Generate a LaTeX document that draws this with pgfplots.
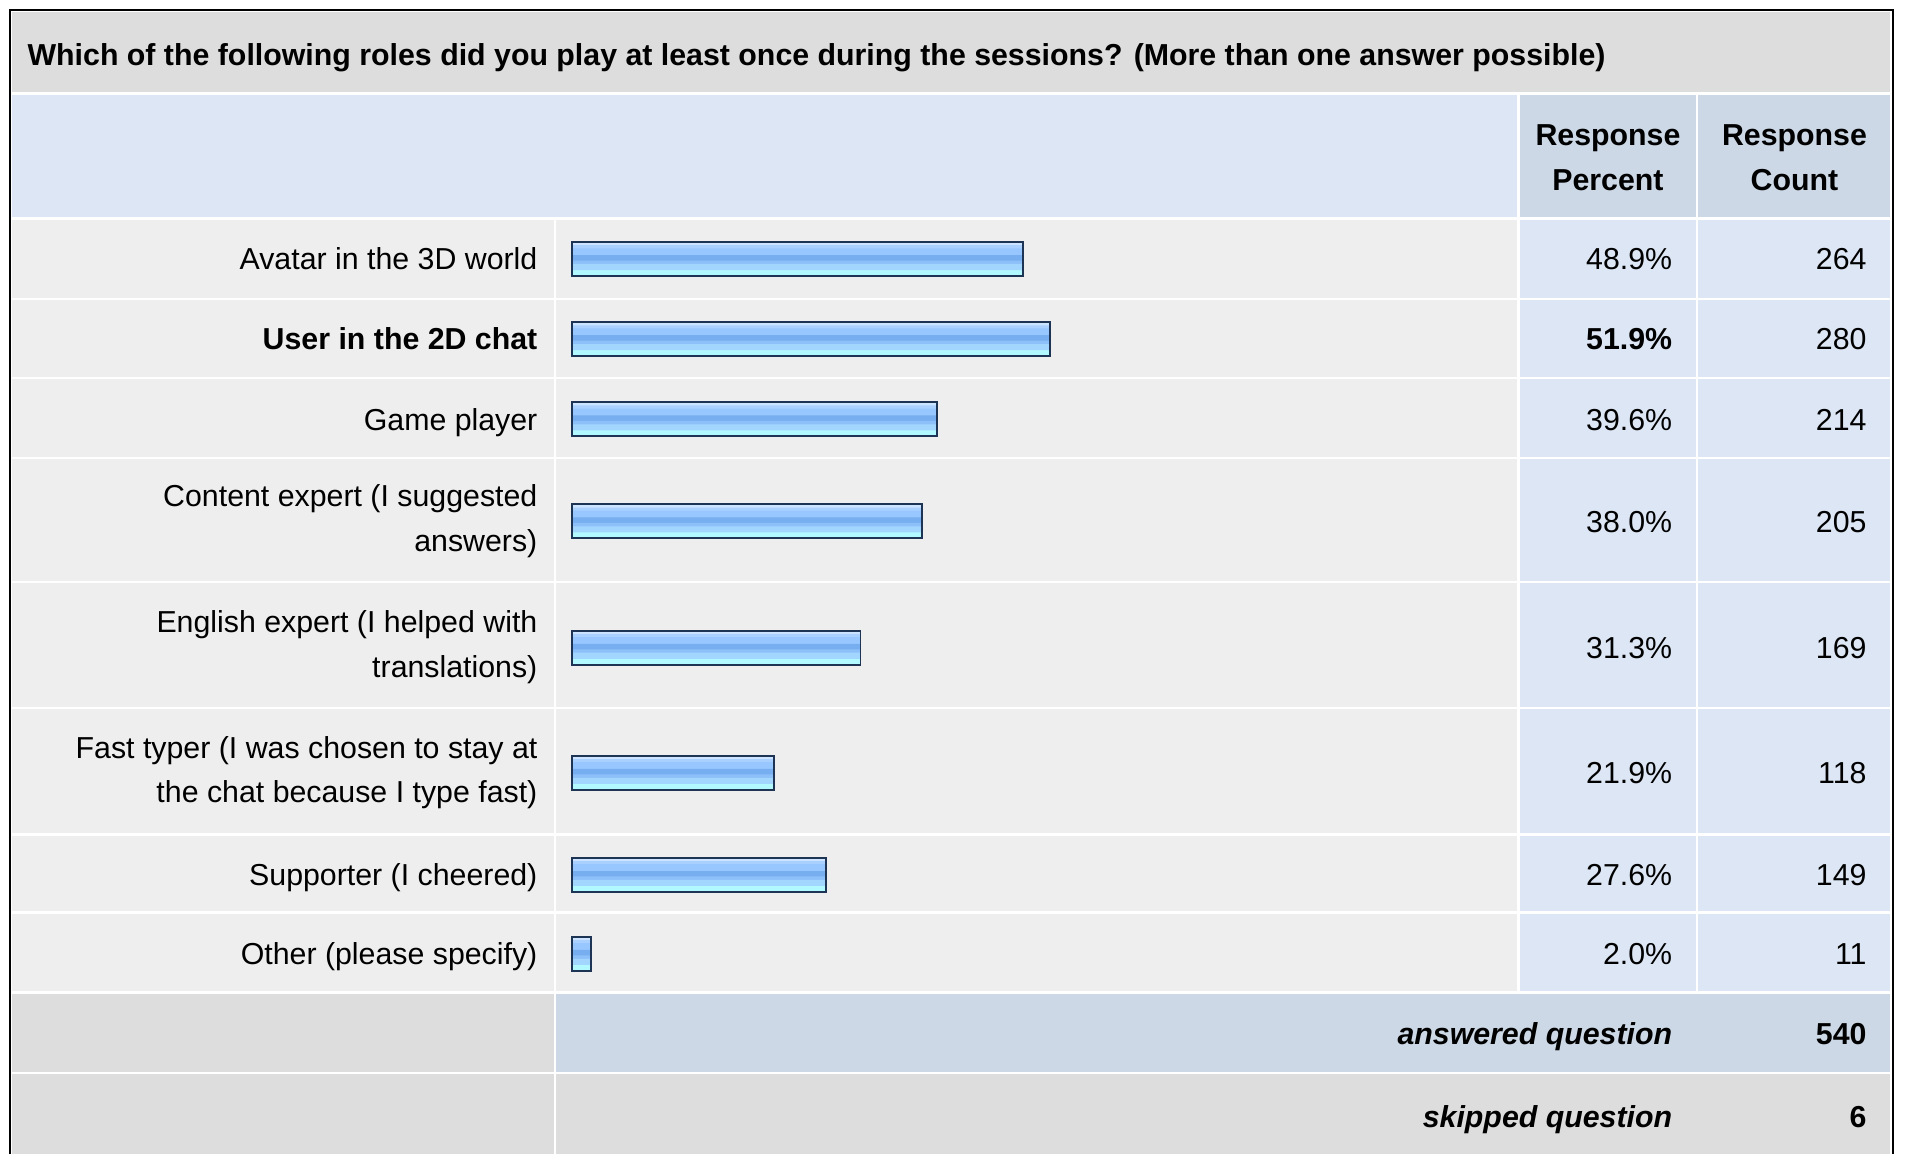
\documentclass[border=0pt]{standalone}
\usepackage{pgfplots}
\usepackage{pgfplotstable}
\pgfplotsset{compat=1.18}
\usepackage{fontspec}
\setmainfont{Liberation Sans}

\definecolor{titlegray}{HTML}{DDDDDD}
\definecolor{cellgray}{HTML}{EEEEEE}
\definecolor{lightblue}{HTML}{DCE6F4}
\definecolor{headblue}{HTML}{CCD8E6}
\definecolor{barline}{HTML}{1D3454}
\definecolor{band1}{HTML}{CCE4FF}
\definecolor{band2}{HTML}{A9D0FF}
\definecolor{band3}{HTML}{98C6FF}
\definecolor{band4}{HTML}{76AEF0}
\definecolor{band5}{HTML}{8DC0F8}
\definecolor{band6}{HTML}{A3D6FF}
\definecolor{band7}{HTML}{B2F8FF}

\newcommand\bodyfont{\fontsize{7.1}{10.5}\selectfont}

% response percent and the row centre (in screenshot pixels)
\pgfplotstableread{
pct  y
48.9 213
51.9 279
39.6 345
38.0 429
31.3 533
21.9 636
27.6 720
2.0  785
}\bardata

\begin{document}
\begin{tikzpicture}[font=\bodyfont, every node/.style={inner sep=0pt}]
% table frame, cells and text; units are pixels of the screenshot
\begin{axis}[
    width=156.8mm, height=95mm, scale only axis, hide axis,
    xmin=0, xmax=1568, ymin=0, ymax=950, y dir=reverse,
  ]
  \fill[white] (0,0) rectangle (1568,950);
  \fill[titlegray] (10,10) rectangle (1556,76);
  \fill[lightblue] (10,78) rectangle (1249,179);
  \fill[headblue] (1251,78) rectangle (1556,179);
  \fill[cellgray] (10,181) rectangle (1249,816);
  \fill[lightblue] (1251,181) rectangle (1556,816);
  \fill[titlegray] (10,818) rectangle (456,882);
  \fill[headblue] (458,818) rectangle (1556,882);
  \fill[titlegray] (10,884) rectangle (1556,950);
  \draw[white, line width=0.2mm] (10,246) -- (1556,246) (10,311) -- (1556,311)
    (10,377) -- (1556,377) (10,479) -- (1556,479) (10,583) -- (1556,583)
    (10,687) -- (1556,687) (10,751) -- (1556,751)
    (457,181) -- (457,950) (1397,78) -- (1397,816);
  \draw[black, line width=0.2mm] (8,950) -- (8,8) -- (1558,8) -- (1558,950);

  \node[anchor=base west, font=\bodyfont\bfseries] at (22,54)
    {Which of the following roles did you play at least once during the sessions? (More than one answer possible)};
  \node[align=center, font=\bodyfont\bfseries] at (1323.5,129.5) {Response\\Percent};
  \node[align=center, font=\bodyfont\bfseries] at (1477,129.5) {Response\\Count};

  \node[anchor=base east] at (443,222) {Avatar in the 3D world};
  \node[anchor=base east, font=\bodyfont\bfseries] at (443,288) {User in the 2D chat};
  \node[anchor=base east] at (443,354) {Game player};
  \node[anchor=east, align=right] at (443,429) {Content expert (I suggested\\answers)};
  \node[anchor=east, align=right] at (443,533) {English expert (I helped with\\translations)};
  \node[anchor=east, align=right] at (443,636) {Fast typer (I was chosen to stay at\\the chat because I type fast)};
  \node[anchor=base east] at (443,729) {Supporter (I cheered)};
  \node[anchor=base east] at (443,794) {Other (please specify)};

  \node[anchor=base east] at (1377,222) {48.9\%};
  \node[anchor=base east, font=\bodyfont\bfseries] at (1377,288) {51.9\%};
  \node[anchor=base east] at (1377,354) {39.6\%};
  \node[anchor=base east] at (1377,438) {38.0\%};
  \node[anchor=base east] at (1377,542) {31.3\%};
  \node[anchor=base east] at (1377,645) {21.9\%};
  \node[anchor=base east] at (1377,729) {27.6\%};
  \node[anchor=base east] at (1377,794) {2.0\%};

  \node[anchor=base east] at (1537,222) {264};
  \node[anchor=base east] at (1537,288) {280};
  \node[anchor=base east] at (1537,354) {214};
  \node[anchor=base east] at (1537,438) {205};
  \node[anchor=base east] at (1537,542) {169};
  \node[anchor=base east] at (1537,645) {118};
  \node[anchor=base east] at (1537,729) {149};
  \node[anchor=base east] at (1537,794) {11};

  \node[anchor=base east, font=\bodyfont\bfseries\itshape] at (1377,860) {answered question};
  \node[anchor=base east, font=\bodyfont\bfseries] at (1537,860) {540};
  \node[anchor=base east, font=\bodyfont\bfseries\itshape] at (1377,928) {skipped question};
  \node[anchor=base east, font=\bodyfont\bfseries] at (1537,928) {6};
\end{axis}
% the bars, x in percent, same y as above; the glossy fill is built from bands
\begin{axis}[
    width=156.8mm, height=95mm, scale only axis, hide axis,
    xmin=-62.14, xmax=144.72, ymin=0, ymax=950, y dir=reverse,
    xbar, bar width=28, bar shift=0,
  ]
  \addplot[fill=band7, draw=none, bar width=28, bar shift=0] table[x=pct, y=y] {\bardata};
  \addplot[fill=band1, draw=none, bar width=3.3, bar shift=-12.4] table[x=pct, y=y] {\bardata};
  \addplot[fill=band2, draw=none, bar width=3.3, bar shift=-9.6] table[x=pct, y=y] {\bardata};
  \addplot[fill=band3, draw=none, bar width=6.1, bar shift=-5.6] table[x=pct, y=y] {\bardata};
  \addplot[fill=band4, draw=none, bar width=5.0, bar shift=-0.55] table[x=pct, y=y] {\bardata};
  \addplot[fill=band5, draw=none, bar width=3.3, bar shift=3.1] table[x=pct, y=y] {\bardata};
  \addplot[fill=band6, draw=none, bar width=5.0, bar shift=6.75] table[x=pct, y=y] {\bardata};
  \addplot[fill=none, draw=barline, line width=0.16mm, bar width=28, bar shift=0] table[x=pct, y=y] {\bardata};
\end{axis}
\end{tikzpicture}
\end{document}
